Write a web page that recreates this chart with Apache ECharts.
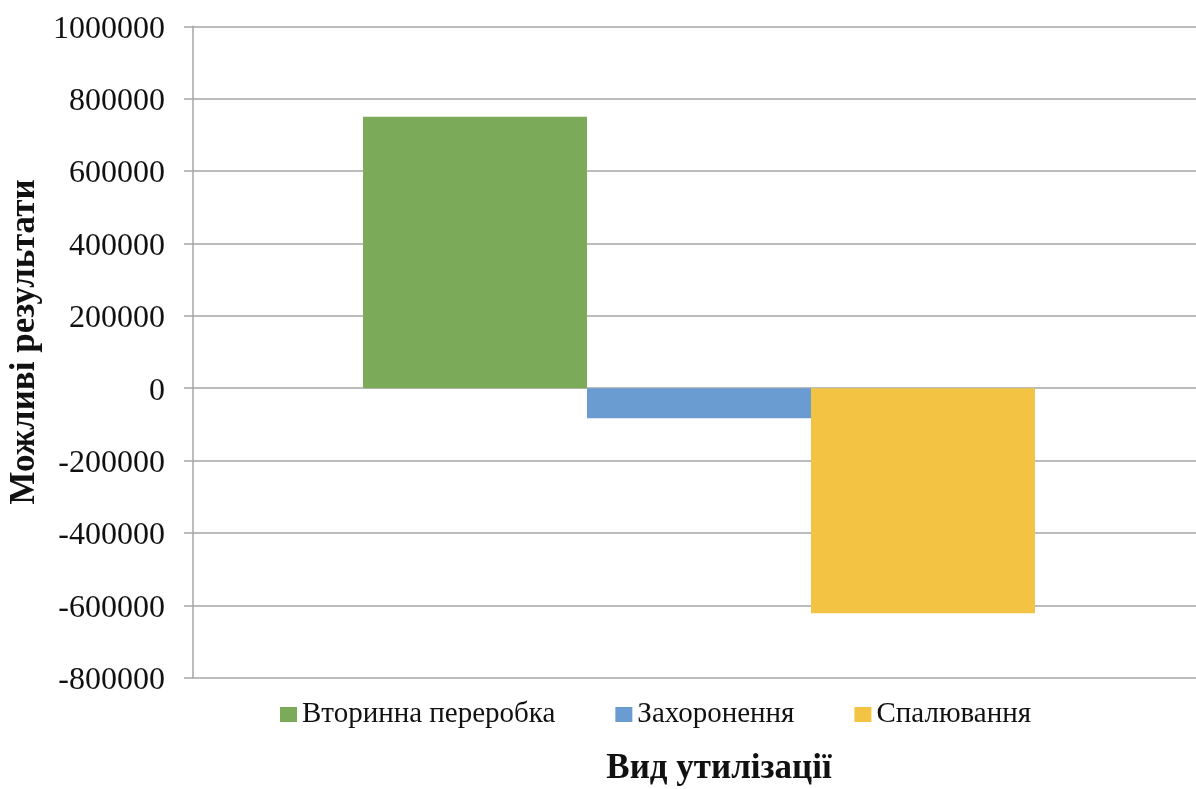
<!DOCTYPE html>
<html>
<head>
<meta charset="utf-8">
<script src="https://cdn.jsdelivr.net/npm/echarts@6/dist/echarts.min.js"></script>
<style>
  html, body { margin: 0; padding: 0; background: #fff; }
  #chart { width: 1196px; height: 789px; }
</style>
</head>
<body>
<div id="chart"></div>
<script>
// Disposal types (one category, one series per type)
const categories = ['Вид утилізації'];
const seriesNames = ['Вторинна переробка', 'Захоронення', 'Спалювання'];
const recyclingValues = [750000];
const landfillValues = [-83000];
const incinerationValues = [-622000];
const seriesColors = ['#7BAB58', '#6A9BD1', '#F3C343'];

const yMin = -800000;
const yMax = 1000000;
const yStep = 200000;

const font = 'Liberation Serif, Times New Roman, serif';
const gridColor = '#A6A6A6';

const chart = echarts.init(document.getElementById('chart'), null, { renderer: 'canvas' });

const values = [recyclingValues, landfillValues, incinerationValues];

chart.setOption({
  animation: false,
  backgroundColor: '#ffffff',
  textStyle: { fontFamily: font },
  grid: { left: 193, right: -9, top: 26.3, bottom: 111.3, containLabel: false, outerBoundsMode: 'none' },
  legend: {
    data: seriesNames,
    left: 275,
    top: 695,
    icon: 'rect',
    itemWidth: 17,
    itemHeight: 15,
    itemGap: 60,
    textStyle: { fontFamily: font, fontSize: 29, color: '#111' }
  },
  xAxis: {
    type: 'category',
    data: categories,
    name: 'Вид утилізації',
    nameLocation: 'middle',
    nameGap: 74,
    nameTextStyle: { fontFamily: font, fontSize: 35, fontWeight: 'bold', color: '#111', padding: [0, 0, 0, 40] },
    axisLine: { show: false, onZero: false },
    axisTick: { show: false },
    axisLabel: { show: false },
    splitLine: { show: false }
  },
  yAxis: {
    type: 'value',
    min: yMin,
    max: yMax,
    interval: yStep,
    name: 'Можливі результати',
    nameLocation: 'middle',
    nameGap: 146,
    nameTextStyle: { fontFamily: font, fontSize: 35, fontWeight: 'bold', color: '#111', padding: [0, 0, 0, 20] },
    axisLine: { show: true, lineStyle: { color: gridColor, width: 1.5 } },
    axisTick: { show: true, length: 9, lineStyle: { color: gridColor, width: 1.5 } },
    axisLabel: {
      fontFamily: font, fontSize: 32, color: '#111', margin: 28,
      formatter: v => '{n|' + v + '}',
      rich: { n: { fontFamily: font, fontSize: 32, color: '#111', padding: [6, 0, 0, 0] } }
    },
    splitLine: { show: true, lineStyle: { color: gridColor, width: 1.5 } }
  },
  series: seriesNames.map((name, i) => ({
    name: name,
    type: 'bar',
    data: values[i],
    barGap: '0%',
    barCategoryGap: '33.6%',
    itemStyle: { color: seriesColors[i] }
  }))
});
</script>
</body>
</html>
